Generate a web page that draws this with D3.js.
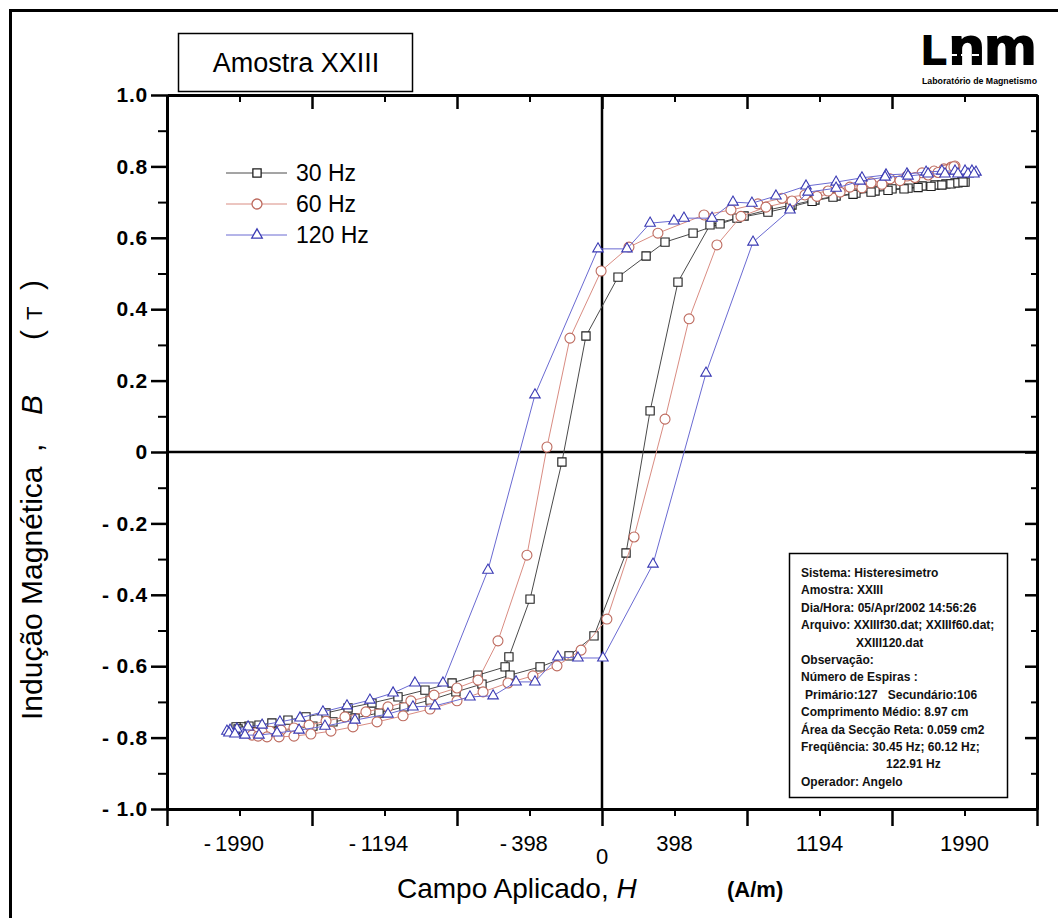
<!DOCTYPE html>
<html>
<head>
<meta charset="utf-8">
<title>Amostra XXIII</title>
<script src="https://cdn.jsdelivr.net/npm/d3@7/dist/d3.min.js"></script>
<style>
  body { margin: 0; background: #fff; }
  svg { display: block; font-family: "Liberation Sans", Arial, sans-serif; }
</style>
</head>
<body>
<div id="chartContainer"></div>
<script>
// each loop = descending branch (+Hmax -> -Hmax) then ascending branch; H in A/m, B in T
var h30 = [1993,1976,1938,1888,1828,1757,1680,1592,1499,1394,1285,1169,1043,911,780,648,500,346,242,88,-88,-220,-395,-511,-532,-681,-823,-972,-1120,-1263,-1394,-1515,-1625,-1724,-1812,-1883,-1938,-1982,-2009,
           -1998,-1965,-1916,-1850,-1773,-1685,-1587,-1477,-1356,-1224,-1087,-944,-802,-659,-505,-340,-181,-44,132,264,417,593,741,911,1032,1153,1268,1378,1477,1570,1658,1735,1806,1866,1916,1954,1982];
var b30 = [0.756,0.759,0.754,0.751,0.748,0.745,0.739,0.737,0.731,0.725,0.717,0.706,0.692,0.678,0.661,0.639,0.613,0.588,0.549,0.490,0.325,-0.028,-0.412,-0.574,-0.602,-0.625,-0.647,-0.667,-0.686,-0.703,-0.717,-0.731,-0.742,-0.751,-0.759,-0.765,-0.768,-0.770,-0.770,
           -0.776,-0.782,-0.784,-0.784,-0.782,-0.776,-0.768,-0.756,-0.745,-0.731,-0.714,-0.695,-0.672,-0.650,-0.625,-0.602,-0.571,-0.515,-0.283,0.115,0.476,0.636,0.655,0.672,0.686,0.702,0.714,0.722,0.728,0.733,0.737,0.741,0.744,0.748,0.751,0.754,0.756];

var h60 = [1938,1916,1877,1823,1757,1674,1581,1477,1361,1241,1114,988,856,708,560,307,148,-5,-176,-302,-412,-571,-681,-796,-922,-1049,-1175,-1296,-1411,-1515,-1608,-1691,-1762,-1823,-1866,-1905,-1932,
           -1921,-1888,-1839,-1773,-1691,-1598,-1488,-1367,-1235,-1092,-944,-796,-653,-516,-379,-247,-115,27,176,346,478,631,763,900,1043,1180,1307,1427,1537,1636,1718,1790,1845,1888,1916,1932];
var b60 = [0.801,0.798,0.793,0.787,0.782,0.773,0.765,0.754,0.742,0.731,0.720,0.711,0.695,0.678,0.664,0.613,0.574,0.507,0.319,0.014,-0.289,-0.529,-0.639,-0.661,-0.681,-0.697,-0.714,-0.728,-0.742,-0.754,-0.765,-0.773,-0.779,-0.782,-0.784,-0.787,-0.787,
           -0.793,-0.796,-0.798,-0.798,-0.796,-0.790,-0.782,-0.770,-0.756,-0.739,-0.720,-0.697,-0.672,-0.647,-0.627,-0.599,-0.555,-0.468,-0.238,0.092,0.373,0.580,0.660,0.686,0.703,0.716,0.728,0.740,0.750,0.760,0.769,0.776,0.783,0.790,0.795,0.799];

var h120 = [2053,2031,1993,1938,1866,1779,1674,1559,1427,1285,1120,955,823,719,604,450,395,264,137,-22,-368,-626,-873,-1027,-1147,-1274,-1400,-1532,-1658,-1768,-1866,-1943,-2004,-2042,-2059,
            -2048,-2015,-1960,-1883,-1784,-1663,-1521,-1356,-1175,-1038,-917,-725,-598,-472,-368,-242,-132,5,280,571,829,1032,1131,1285,1416,1554,1680,1790,1883,1954,2009,2042];
var b120 = [0.784,0.787,0.787,0.787,0.787,0.784,0.779,0.776,0.768,0.756,0.745,0.717,0.697,0.700,0.655,0.655,0.647,0.641,0.569,0.569,0.160,-0.331,-0.647,-0.647,-0.675,-0.695,-0.711,-0.728,-0.745,-0.756,-0.765,-0.770,-0.776,-0.779,-0.782,
            -0.787,-0.790,-0.793,-0.793,-0.787,-0.779,-0.768,-0.751,-0.734,-0.714,-0.711,-0.686,-0.683,-0.644,-0.644,-0.574,-0.577,-0.577,-0.314,0.221,0.588,0.678,0.728,0.739,0.759,0.770,0.773,0.779,0.779,0.779,0.779,0.779];

var seriesNames = ["30 Hz", "60 Hz", "120 Hz"];
var yMajorTicks = [-1, -0.8, -0.6, -0.4, -0.2, 0, 0.2, 0.4, 0.6, 0.8, 1];
var yMinorTicks = [-0.9, -0.7, -0.5, -0.3, -0.1, 0.1, 0.3, 0.5, 0.7, 0.9];
var xMajorTicks = [-2388, -1592, -796, 0, 796, 1592, 2388];
var xLabelTicks = [-1990, -1194, -398, 398, 1194, 1990];
var infoLines = ["Sistema: Histeresimetro", "Amostra: XXIII", "Dia/Hora: 05/Apr/2002 14:56:26",
                 "Arquivo: XXIIIf30.dat; XXIIIf60.dat;", "XXIII120.dat", "Observação:", "Número de Espiras :",
                 "Primário:127   Secundário:106", "Comprimento Médio: 8.97 cm", "Área da Secção Reta: 0.059 cm2",
                 "Freqüência: 30.45 Hz; 60.12 Hz;", "122.91 Hz", "Operador: Angelo"];

var width = 1058, height = 918;

var svg = d3.select("#chartContainer")
    .append("svg")
    .attr("width", width)
    .attr("height", height);

svg.append("rect").attr("width", width).attr("height", height).attr("fill", "#fff");

// outer frame (right and bottom edges fall outside the picture)
svg.append("path")
    .attr("d", "M10.5," + (height + 5) + "V10.5H" + (width + 5))
    .attr("fill", "none")
    .attr("stroke", "#000")
    .attr("stroke-width", 3);

var xScale = d3.scaleLinear().domain([-2388, 2388]).range([167, 1037]);
var yScale = d3.scaleLinear().domain([-1, 1]).range([809, 95]);

function fmtY(d) {
    if (d === 0) return "0";
    return (d < 0 ? "- " : "") + Math.abs(d).toFixed(1);
}

function styleAxis(g, w) {
    g.select(".domain").attr("stroke", "#000").attr("stroke-width", 3);
    g.selectAll(".tick line").attr("stroke", "#000").attr("stroke-width", w);
}

// left axis, ticks outward
svg.append("g")
    .attr("transform", "translate(167,0)")
    .call(d3.axisLeft(yScale).tickValues(yMinorTicks).tickSize(9).tickSizeOuter(0).tickFormat(""))
    .call(styleAxis, 2);
var yAxisG = svg.append("g")
    .attr("transform", "translate(167,0)")
    .call(d3.axisLeft(yScale).tickValues(yMajorTicks).tickSize(16).tickSizeOuter(0).tickPadding(3).tickFormat(fmtY))
    .call(styleAxis, 2.5);
yAxisG.selectAll(".tick text")
    .attr("font-family", "'Liberation Sans', Arial, sans-serif")
    .attr("font-size", 21)
    .attr("font-weight", "bold")
    .attr("letter-spacing", 0.8)
    .attr("fill", "#000");

// right axis, ticks pointing inward (left)
svg.append("g")
    .attr("transform", "translate(1037,0)")
    .call(d3.axisLeft(yScale).tickValues(yMinorTicks).tickSize(6).tickSizeOuter(0).tickFormat(""))
    .call(styleAxis, 2);
svg.append("g")
    .attr("transform", "translate(1037,0)")
    .call(d3.axisLeft(yScale).tickValues(yMajorTicks).tickSize(12).tickSizeOuter(0).tickFormat(""))
    .call(styleAxis, 2.5);

// top axis, ticks pointing inward (down)
svg.append("g")
    .attr("transform", "translate(0,95)")
    .call(d3.axisBottom(xScale).tickValues(xLabelTicks).tickSize(7).tickSizeOuter(0).tickFormat(""))
    .call(styleAxis, 2);
svg.append("g")
    .attr("transform", "translate(0,95)")
    .call(d3.axisBottom(xScale).tickValues(xMajorTicks).tickSize(14).tickSizeOuter(0).tickFormat(""))
    .call(styleAxis, 2.5);

// bottom axis, ticks outward (down)
svg.append("g")
    .attr("transform", "translate(0,809)")
    .call(d3.axisBottom(xScale).tickValues(xLabelTicks).tickSize(7).tickSizeOuter(0).tickFormat(""))
    .call(styleAxis, 2);
svg.append("g")
    .attr("transform", "translate(0,809)")
    .call(d3.axisBottom(xScale).tickValues(xMajorTicks).tickSize(17).tickSizeOuter(0).tickFormat(""))
    .call(styleAxis, 2.5);

// x tick labels: number centred on tick, "-" hanging left
var xLab = svg.append("g").attr("font-size", 22).attr("fill", "#000");
xLabelTicks.forEach(function(v) {
    xLab.append("text")
        .attr("x", xScale(v)).attr("y", 851)
        .attr("text-anchor", "middle")
        .text(Math.abs(v));
    if (v < 0) {
        var half = String(Math.abs(v)).length * 6.1;
        xLab.append("text")
            .attr("x", xScale(v) - half - 4).attr("y", 851)
            .attr("text-anchor", "end")
            .text("-");
    }
});
xLab.append("text").attr("x", xScale(0)).attr("y", 864).attr("text-anchor", "middle").text("0");

// zero lines
svg.append("line")
    .attr("x1", xScale(0)).attr("x2", xScale(0))
    .attr("y1", yScale(1)).attr("y2", yScale(-1))
    .attr("stroke", "#000").attr("stroke-width", 2.5);
svg.append("line")
    .attr("x1", xScale(-2388)).attr("x2", xScale(2388))
    .attr("y1", yScale(0)).attr("y2", yScale(0))
    .attr("stroke", "#000").attr("stroke-width", 2.5);

// series
var series = [
    {h: h30, b: b30, line: "#4a4a4a", mark: "#1e1e1e", sym: d3.symbolSquare, size: 68},
    {h: h60, b: b60, line: "#d98c82", mark: "#bd6a5e", sym: d3.symbolCircle, size: 78},
    {h: h120, b: b120, line: "#6a6ad2", mark: "#3a3ab4", sym: d3.symbolTriangle, size: 48}
];

var line = d3.line()
    .x(function(d) { return xScale(d[0]); })
    .y(function(d) { return yScale(d[1]); });

series.forEach(function(s) {
    var pts = d3.zip(s.h, s.b);
    svg.append("path")
        .datum(pts)
        .attr("d", line)
        .attr("fill", "none")
        .attr("stroke", s.line)
        .attr("stroke-width", 1);
    svg.append("g").selectAll("path")
        .data(pts)
        .enter()
        .append("path")
        .attr("transform", function(d) { return "translate(" + xScale(d[0]) + "," + yScale(d[1]) + ")"; })
        .attr("d", d3.symbol().type(s.sym).size(s.size))
        .attr("fill", "#fff")
        .attr("stroke", s.mark)
        .attr("stroke-width", 1.1);
});

// legend
var legend = svg.append("g");
series.forEach(function(s, i) {
    var ly = 173 + i * 31;
    legend.append("line")
        .attr("x1", 226).attr("x2", 287).attr("y1", ly).attr("y2", ly)
        .attr("stroke", s.line).attr("stroke-width", 1);
    legend.append("path")
        .attr("transform", "translate(257," + ly + ")")
        .attr("d", d3.symbol().type(s.sym).size(s.size))
        .attr("fill", "#fff")
        .attr("stroke", s.mark)
        .attr("stroke-width", 1.3);
    legend.append("text")
        .attr("x", 296).attr("y", ly + 8)
        .attr("font-size", 23)
        .text(seriesNames[i]);
});

// title box
svg.append("rect")
    .attr("x", 178.5).attr("y", 33.5).attr("width", 234).attr("height", 58)
    .attr("fill", "#fff").attr("stroke", "#000").attr("stroke-width", 1.5);
svg.append("text")
    .attr("x", 296).attr("y", 72)
    .attr("text-anchor", "middle")
    .attr("font-size", 27)
    .text("Amostra XXIII");

// logo
svg.append("text")
    .attr("x", 922).attr("y", 64)
    .attr("font-size", 40).attr("font-weight", "bold")
    .attr("stroke", "#000").attr("stroke-width", 2)
    .text("L");
svg.append("text")
    .attr("x", 949).attr("y", 64)
    .attr("font-size", 52).attr("font-weight", "bold")
    .attr("textLength", 87).attr("lengthAdjust", "spacingAndGlyphs")
    .attr("stroke", "#000").attr("stroke-width", 2)
    .text("nm");
svg.append("line")
    .attr("x1", 950).attr("x2", 980).attr("y1", 55).attr("y2", 55)
    .attr("stroke", "#fff").attr("stroke-width", 2).attr("stroke-dasharray", "7,4");
svg.append("text")
    .attr("x", 922).attr("y", 84)
    .attr("font-size", 8.5).attr("font-weight", "bold")
    .attr("textLength", 115).attr("lengthAdjust", "spacingAndGlyphs")
    .text("Laboratório de Magnetismo");

// info box
var infoIndent = {4: 55, 7: 4, 11: 85};
svg.append("rect")
    .attr("x", 789.5).attr("y", 553.5).attr("width", 218).attr("height", 244)
    .attr("fill", "#fff").attr("stroke", "#000").attr("stroke-width", 1.5);
var info = svg.append("g").attr("font-size", 12).attr("font-weight", "bold").attr("fill", "#111");
infoLines.forEach(function(t, i) {
    info.append("text")
        .attr("x", 801 + (infoIndent[i] || 0))
        .attr("y", 577 + i * 17.4)
        .style("white-space", "pre")
        .text(t);
});

// axis titles
var yTitle = svg.append("text")
    .attr("transform", "translate(42,720) rotate(-90)")
    .attr("font-size", 30);
yTitle.append("tspan").attr("x", 0).text("Indução Magnética");
yTitle.append("tspan").attr("x", 268).text(",");
yTitle.append("tspan").attr("x", 305).attr("font-style", "italic").text("B");
yTitle.append("tspan").attr("x", 380).text("(");
yTitle.append("tspan").attr("x", 400).attr("font-size", 22).text("T");
yTitle.append("tspan").attr("x", 430).text(")");

var xTitle = svg.append("text")
    .attr("x", 397).attr("y", 898)
    .attr("font-size", 28);
xTitle.append("tspan").text("Campo Aplicado, ");
xTitle.append("tspan").attr("font-style", "italic").text("H");
svg.append("text")
    .attr("x", 727).attr("y", 897)
    .attr("font-size", 22).attr("font-weight", "bold")
    .text("(A/m)");
</script>
</body>
</html>
